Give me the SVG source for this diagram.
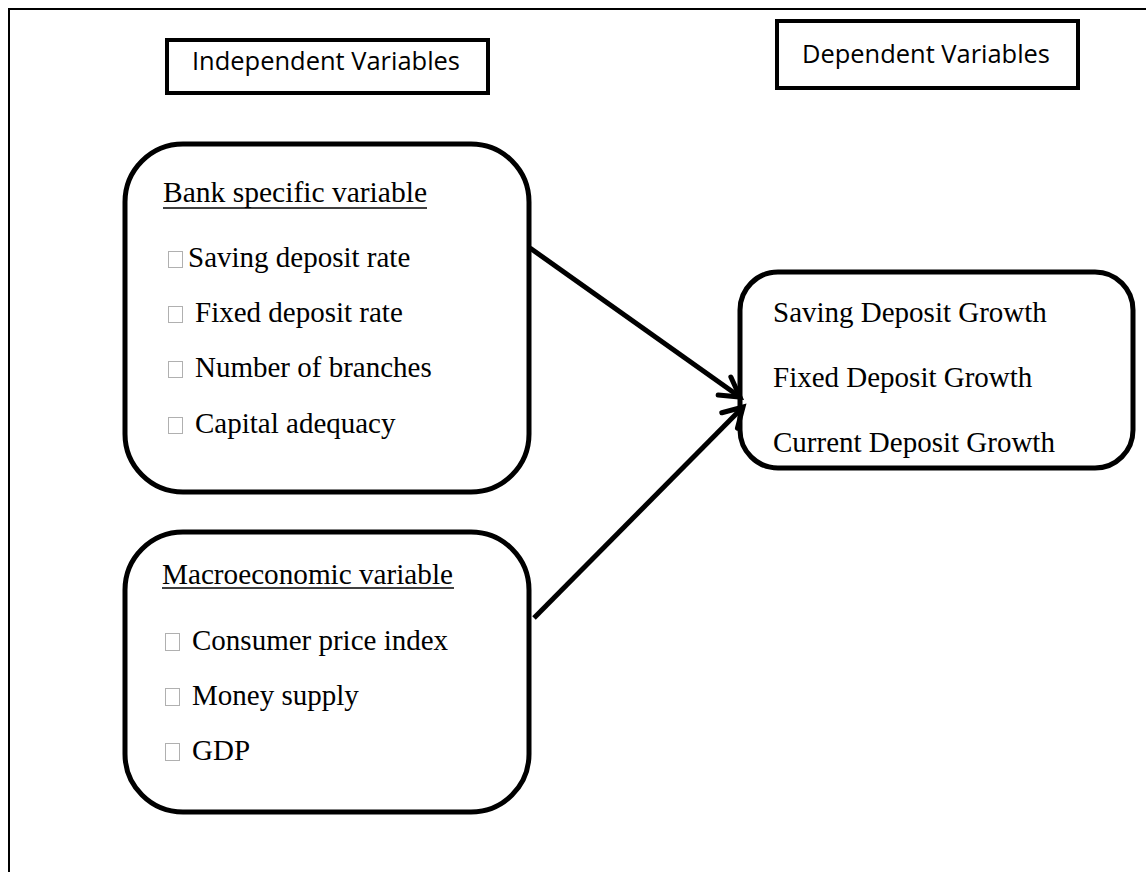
<svg xmlns="http://www.w3.org/2000/svg" width="1146" height="872" viewBox="0 0 1146 872">
<style>
.frame{fill:none;stroke:#000;stroke-width:2}
.hdr{fill:#fff;stroke:#000;stroke-width:4}
.rbox{fill:#fff;stroke:#000;stroke-width:5}
.hdrt{font-family:"Open Sans","Noto Sans","Liberation Sans",sans-serif;font-size:25px;fill:#000}
.t{font-family:"Liberation Serif","Times New Roman",serif;font-size:29px;fill:#000}
.ul{stroke:#000;stroke-width:1.6}
.bul{fill:none;stroke:#b0b0b0;stroke-width:1}
.conn{fill:none;stroke:#000;stroke-width:5}
</style>
<defs>
<marker id="arr" markerUnits="userSpaceOnUse" markerWidth="30" markerHeight="30" viewBox="0 0 30 30" refX="22" refY="15" orient="auto">
<path d="M3,4 L22,15 L3,26" fill="none" stroke="#000" stroke-width="5" stroke-linecap="round" stroke-linejoin="miter"/>
</marker>
</defs>
<rect width="1146" height="872" fill="#fff"/>
<rect class="frame" x="9" y="9" width="1160" height="890"/>

<g id="hdr-independent">
<rect class="hdr" x="167" y="40" width="321" height="53"/>
<text class="hdrt" x="192" y="70" textLength="268" lengthAdjust="spacingAndGlyphs">Independent Variables</text>
</g>
<g id="hdr-dependent">
<rect class="hdr" x="777" y="21" width="301" height="67"/>
<text class="hdrt" x="802" y="63" textLength="248" lengthAdjust="spacingAndGlyphs">Dependent Variables</text>
</g>

<g id="bank">
<rect class="rbox" x="125" y="144" width="404" height="348" rx="58" ry="58"/>
<text class="t" x="163" y="202" textLength="264" lengthAdjust="spacingAndGlyphs">Bank specific variable</text>
<line class="ul" x1="163" y1="208" x2="427" y2="208"/>
<rect class="bul" x="168.5" y="251.5" width="14" height="16"/>
<text class="t" x="188" y="267">Saving deposit rate</text>
<rect class="bul" x="168.5" y="306.5" width="14" height="16"/>
<text class="t" x="195" y="322">Fixed deposit rate</text>
<rect class="bul" x="168.5" y="361.5" width="14" height="16"/>
<text class="t" x="195" y="377">Number of branches</text>
<rect class="bul" x="168.5" y="417.5" width="14" height="16"/>
<text class="t" x="195" y="433">Capital adequacy</text>
</g>

<g id="macro">
<rect class="rbox" x="125" y="532" width="404" height="280" rx="58" ry="58"/>
<text class="t" x="162" y="584" textLength="291" lengthAdjust="spacingAndGlyphs">Macroeconomic variable</text>
<line class="ul" x1="162" y1="588" x2="454" y2="588"/>
<rect class="bul" x="165.5" y="633.5" width="14" height="17"/>
<text class="t" x="192" y="650">Consumer price index</text>
<rect class="bul" x="165.5" y="688.5" width="14" height="17"/>
<text class="t" x="192" y="705">Money supply</text>
<rect class="bul" x="165.5" y="743.5" width="14" height="17"/>
<text class="t" x="192" y="760">GDP</text>
</g>

<g id="dependent">
<rect class="rbox" x="740" y="272" width="393" height="196" rx="38" ry="38"/>
<text class="t" x="773" y="322">Saving Deposit Growth</text>
<text class="t" x="773" y="387">Fixed Deposit Growth</text>
<text class="t" x="773" y="452">Current Deposit Growth</text>
</g>

<g id="connectors">
<line class="conn" x1="530" y1="248" x2="740" y2="397" marker-end="url(#arr)"/>
<line class="conn" x1="534" y1="618" x2="743" y2="407" marker-end="url(#arr)"/>
</g>
</svg>
